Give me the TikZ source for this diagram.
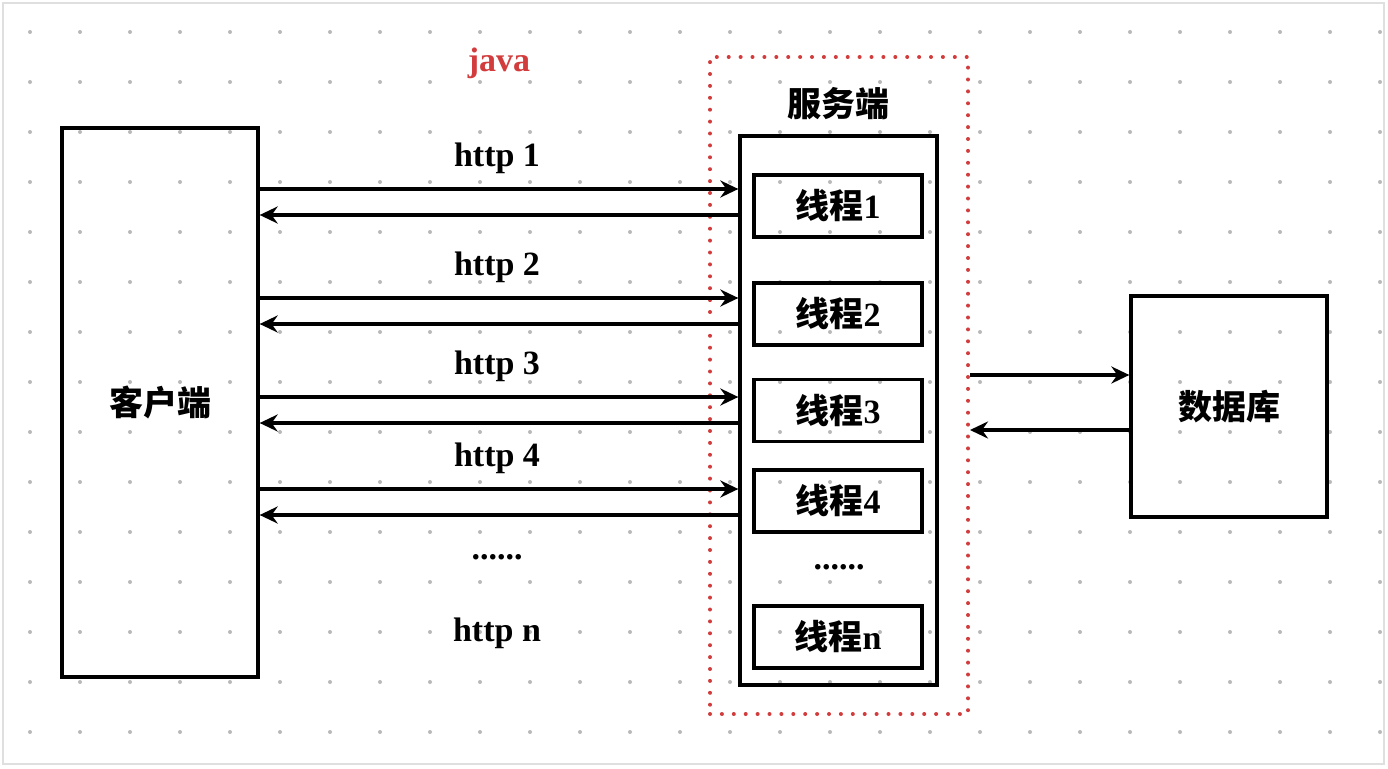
\documentclass[tikz,border=0pt]{standalone}
\usepackage{fontspec}
\setmainfont{Liberation Serif}
\newfontfamily\cjk{Noto Sans CJK SC}
\usetikzlibrary{arrows.meta}
\definecolor{gridgray}{RGB}{185,185,185}
\definecolor{javared}{RGB}{210,60,60}

\begin{document}
\begin{tikzpicture}[x=1pt,y=-1pt]
        \tikzset{box/.style={draw,line width=3.3pt,inner sep=0pt,font=\bfseries\fontsize{34}{36}\selectfont}}
        \tikzset{thread/.style={box,minimum width=168pt,minimum height=62pt}}
        \tikzset{txt/.style={inner sep=0pt,font=\bfseries\fontsize{34}{36}\selectfont}}
        \tikzset{vec/.style={draw,line width=3.3pt,-{Stealth[length=18pt,width=17pt,inset=6pt]}}}
        \useasboundingbox (0,0) rectangle (1388,768);
        \fill[white] (0,0) rectangle (1388,768);
        \draw[gray!25,line width=1.5pt] (3,3) rectangle (1384,764);
        % dotted grid
        \foreach \gx in {30,80,...,1380}
            \foreach \gy in {32,82,...,732}
                \fill[gridgray] (\gx,\gy) circle (2pt);

        \node[box,minimum width=196pt,minimum height=549pt] (client) at (160,402.5) {\cjk 客户端};
        \node[box,minimum width=197pt,minimum height=549pt] (server) at (838.5,410.5) {};
        \node[draw=javared,line width=4pt,line cap=round,dash pattern=on 0pt off 11.9pt,
              minimum width=258pt,minimum height=657pt] (java) at (839,385.5) {};
        \node[box,minimum width=196pt,minimum height=221pt] (db) at (1229,406.5) {\cjk 数据库};

        \node[txt,text=javared] (javalabel) at (499,63) {java};
        \node[txt] (serverlabel) at (838,104) {\cjk 服务端};

        \node[thread] (t1) at (838,206) {{\cjk 线程}1};
        \node[thread] (t2) at (838,314) {{\cjk 线程}2};
        \node[thread] (t3) at (838,410.5) {{\cjk 线程}3};
        \node[thread] (t4) at (838,501) {{\cjk 线程}4};
        \node[txt] (tdots) at (839,567) {......};
        \node[thread] (tn) at (838,637) {{\cjk 线程}n};

        \foreach \i/\ya/\yb in {1/189/215,2/298/324,3/397/423,4/489/515} {
            \node[txt] (http\i) at (497,\ya-31) {http \i};
            \draw[vec] (client.east |- 0,\ya) -- (server.west |- 0,\ya);
            \draw[vec] (server.west |- 0,\yb) -- (client.east |- 0,\yb);
        }
        \node[txt] (hdots) at (497,557) {......};
        \node[txt] (httpn) at (497,633) {http n};

        \draw[vec] (java.east |- 0,375) -- (db.west |- 0,375);
        \draw[vec] (db.west |- 0,430) -- (java.east |- 0,430);
    \end{tikzpicture}
\end{document}
